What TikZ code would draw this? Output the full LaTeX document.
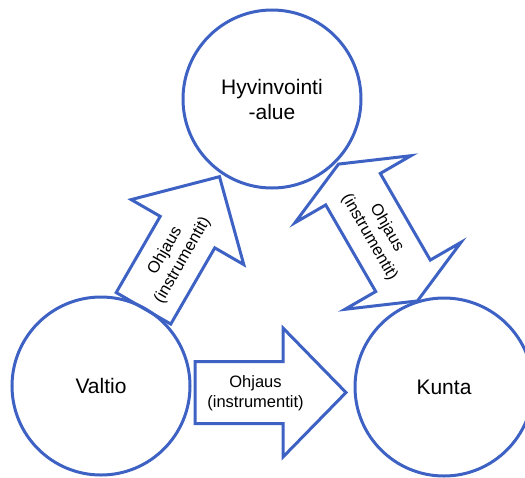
\documentclass[tikz,border=0pt]{standalone}
\usepackage{fontspec}
\setmainfont{Liberation Sans}
\definecolor{lineblue}{RGB}{62,98,196}
\begin{document}
\begin{tikzpicture}[x=1pt,y=-1pt,
  circ/.style={draw=lineblue, line width=3pt, circle, minimum size=178pt, inner sep=0pt,
    font=\fontsize{21}{25}\selectfont, align=center},
  blockarrow/.style={draw=lineblue, line width=3pt, line join=miter},
  arrowtext/.style={font=\fontsize{16.5}{20}\selectfont, align=center, inner sep=0pt}]
\useasboundingbox (0,0) rectangle (525,477);
\node[circ] (hyv) at (272,99) {Hyvinvointi\\-alue};
\node[circ] (valtio) at (101,386) {Valtio};
\node[circ] (kunta) at (444,387) {Kunta};
% Valtio -> Kunta
\begin{scope}[shift={(270.5,392.5)}]
  \draw[blockarrow] (-75.5,-31) -- (12.5,-31) -- (12.5,-64.5) -- (75.5,0) -- (12.5,64.5) -- (12.5,31) -- (-75.5,31) -- cycle;
  \node[arrowtext] (t1) at (-15,1) {Ohjaus\\(instrumentit)};
\end{scope}
% Valtio -> Hyvinvointialue
\begin{scope}[shift={(181.5,242.5)}, rotate=60]
  \draw[blockarrow] (-76,-31.5) -- (12,-31.5) -- (12,-65) -- (76,0) -- (12,65) -- (12,31.5) -- (-76,31.5) -- cycle;
  \node[arrowtext, rotate=60] (t2) at (-15,0) {Ohjaus\\(instrumentit)};
\end{scope}
% Hyvinvointialue <-> Kunta
\begin{scope}[shift={(378,232.5)}, rotate=-60]
  \draw[blockarrow] (-79,0) -- (-50,67) -- (-50,31.5) -- (50,31.5) -- (50,67) -- (79,0) -- (50,-67) -- (50,-31.5) -- (-50,-31.5) -- (-50,-67) -- cycle;
  \node[arrowtext, rotate=-60] (t3) at (0,0) {Ohjaus\\(instrumentit)};
\end{scope}
\end{tikzpicture}
\end{document}
